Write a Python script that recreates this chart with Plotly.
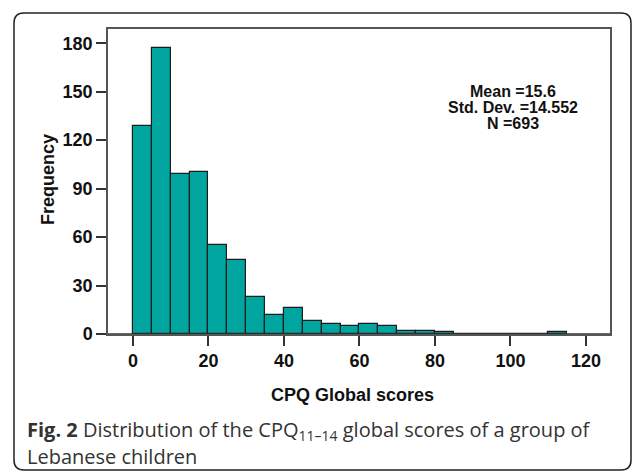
import plotly.graph_objects as go

# ---- data ----
bin_edges = [0, 5, 10, 15, 20, 25, 30, 35, 40, 45, 50, 55, 60, 65, 70, 75, 80, 85,
             90, 95, 100, 105, 110, 115]
counts = [129, 177, 99, 100, 55, 46, 23, 12, 16, 8, 6, 5, 6, 5, 2, 2, 1,
          0, 0, 0, 0, 0, 1]
x_ticks = [0, 20, 40, 60, 80, 100, 120]
y_ticks = [0, 30, 60, 90, 120, 150, 180]
stats_lines = ["Mean =15.6", "Std. Dev. =14.552", "N =693"]
x_title = "CPQ Global scores"
y_title = "Frequency"
caption_lines = [
    "<b>Fig. 2</b> Distribution of the CPQ<sub>11\u201314</sub> global scores of a group of",
    "Lebanese children",
]

centers = [(bin_edges[i] + bin_edges[i + 1]) / 2 for i in range(len(counts))]
widths = [bin_edges[i + 1] - bin_edges[i] for i in range(len(counts))]

W, H = 633, 472
L, R, T, B = 108, 610, 29, 334  # plot-area pixel edges
pw, ph = R - L, B - T


def fx(px):
    return (px - L) / pw


def fy(py):
    return (B - py) / ph


fig = go.Figure()
fig.add_trace(go.Bar(
    x=centers, y=counts, width=widths,
    marker=dict(color="#00A5A0", line=dict(color="#1c1c1c", width=1.2)),
    showlegend=False,
))

axis_font = dict(family="Liberation Sans, Arial, sans-serif", size=18, color="#111", weight="bold")

fig.update_layout(
    width=W, height=H,
    margin=dict(l=L, r=W - R, t=T, b=H - B, pad=0),
    paper_bgcolor="white", plot_bgcolor="white",
    bargap=0,
    xaxis=dict(
        range=[-6.62, 126.36], tickvals=x_ticks, ticks="outside", ticklen=10,
        tickwidth=1.5, tickcolor="#333", tickfont=axis_font,
        showline=True, linecolor="#555", linewidth=1.5, mirror=True,
        showgrid=False, zeroline=False, fixedrange=True,
    ),
    yaxis=dict(
        range=[0, 188.8], tickvals=y_ticks, ticks="outside", ticklen=10,
        tickwidth=1.5, tickcolor="#333", tickfont=axis_font,
        showline=True, linecolor="#555", linewidth=1.5, mirror=True,
        showgrid=False, zeroline=False, fixedrange=True,
    ),
)

# bottom axis line darker (zero line)
fig.add_shape(type="line", xref="paper", yref="y", x0=0, x1=1, y0=0, y1=0,
              line=dict(color="#333", width=1.5))

# outer rounded box
l0, r0, t0, b0 = fx(14), fx(631), fy(13), fy(470)
rx, ry = 10 / pw, 10 / ph
path = (f"M {l0 + rx},{t0} L {r0 - rx},{t0} Q {r0},{t0} {r0},{t0 - ry} "
        f"L {r0},{b0 + ry} Q {r0},{b0} {r0 - rx},{b0} "
        f"L {l0 + rx},{b0} Q {l0},{b0} {l0},{b0 + ry} "
        f"L {l0},{t0 - ry} Q {l0},{t0} {l0 + rx},{t0} Z")
fig.add_shape(type="path", xref="paper", yref="paper", path=path,
              line=dict(color="#222", width=1.5), fillcolor="rgba(0,0,0,0)")

stat_font = dict(family="Liberation Sans, Arial, sans-serif",
                 size=16, color="#111", weight="bold")
for line, py in zip(stats_lines, [91, 107, 123]):
    fig.add_annotation(text=line, xref="paper", yref="paper", x=fx(513), y=fy(py),
                       xanchor="center", yanchor="middle", showarrow=False, font=stat_font)

fig.add_annotation(text=x_title, xref="paper", yref="paper", x=fx(352), y=fy(395),
                   xanchor="center", yanchor="middle", showarrow=False, font=axis_font)
fig.add_annotation(text=y_title, xref="paper", yref="paper", x=fx(48), y=fy(180),
                   xanchor="center", yanchor="middle", showarrow=False, textangle=-90,
                   font=axis_font)

cap_font = dict(family="Open Sans, Noto Sans, sans-serif", size=20, color="#333")
for line, py in zip(caption_lines, [430, 456]):
    fig.add_annotation(text=line, xref="paper", yref="paper", x=fx(25), y=fy(py),
                       xanchor="left", yanchor="middle", showarrow=False, font=cap_font,
                       align="left")

fig.write_html("out.html", config={"displayModeBar": False},
               post_script="document.body.style.margin='0px';")
